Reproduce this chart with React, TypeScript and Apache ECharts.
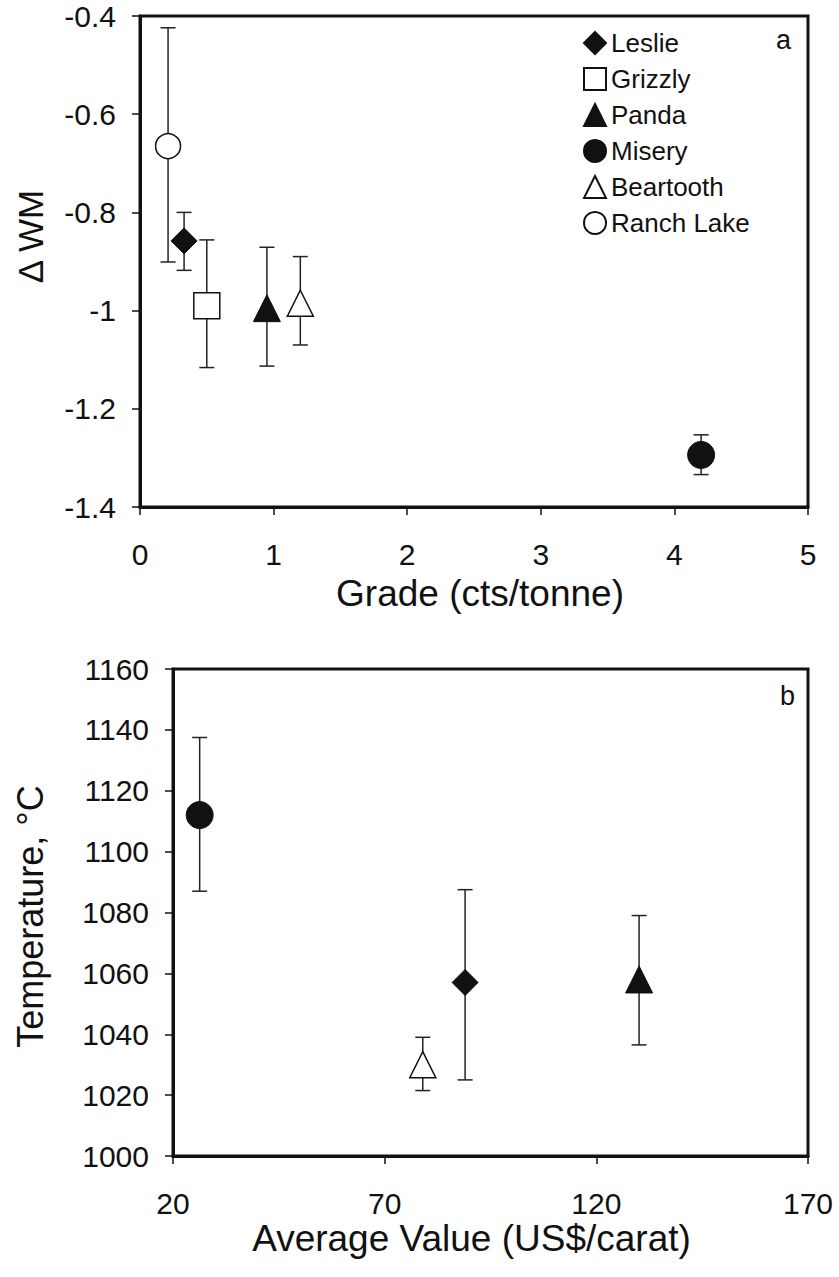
import React, { useEffect, useRef } from "react";
import * as echarts from "echarts";

// ---- Panel a: ΔWM vs grade ----
const minesA = ["Leslie", "Grizzly", "Panda", "Misery", "Beartooth", "Ranch Lake"];
const gradeX = [0.33, 0.5, 0.95, 4.2, 1.2, 0.21];
const deltaWM = [-0.858, -0.99, -0.995, -1.294, -0.985, -0.665];
const deltaWMLow = [-0.918, -1.116, -1.113, -1.334, -1.07, -0.901];
const deltaWMHigh = [-0.8, -0.856, -0.871, -1.253, -0.89, -0.424];
const gradeTicks = [0, 1, 2, 3, 4, 5];
const wmTicks = [-1.4, -1.2, -1, -0.8, -0.6, -0.4];

// ---- Panel b: temperature vs average value ----
const minesB = ["Misery", "Beartooth", "Leslie", "Panda"];
const valueX = [26.3, 79, 89, 130.1];
const temperature = [1112, 1030, 1057, 1058];
const tempLow = [1087, 1021.5, 1025, 1036.5];
const tempHigh = [1137.5, 1039, 1087.5, 1079];
const valueTicks = [20, 70, 120, 170];
const tempTicks = [1000, 1020, 1040, 1060, 1080, 1100, 1120, 1140, 1160];

const FONT = '"Liberation Sans", Arial, Helvetica, sans-serif';
const INK = "#111";

const markerStyle: Record<string, { symbol: string; size: number | number[]; filled: boolean }> = {
  Leslie: { symbol: "diamond", size: [26, 26], filled: true },
  Grizzly: { symbol: "rect", size: 26, filled: false },
  Panda: { symbol: "triangle", size: 27, filled: true },
  Misery: { symbol: "circle", size: 27, filled: true },
  Beartooth: { symbol: "triangle", size: 26, filled: false },
  "Ranch Lake": { symbol: "circle", size: 25, filled: false },
};

function errRender(params: any, api: any) {
  const x = api.value(0);
  const lo = api.value(1);
  const hi = api.value(2);
  const top = api.coord([x, hi]);
  const bot = api.coord([x, lo]);
  const hw = 7.5;
  const style = { stroke: "#222", lineWidth: 1.5 };
  return {
    type: "group",
    children: [
      { type: "line", shape: { x1: top[0], y1: top[1], x2: bot[0], y2: bot[1] }, style },
      { type: "line", shape: { x1: top[0] - hw, y1: top[1], x2: top[0] + hw, y2: top[1] }, style },
      { type: "line", shape: { x1: bot[0] - hw, y1: bot[1], x2: bot[0] + hw, y2: bot[1] }, style },
    ],
  };
}

function scatterSeries(name: string, x: number, y: number, idx: number) {
  const m = markerStyle[name];
  return {
    type: "scatter",
    name,
    xAxisIndex: idx,
    yAxisIndex: idx,
    data: [[x, y]],
    symbol: m.symbol,
    symbolSize: m.size,
    itemStyle: m.filled
      ? { color: INK, borderColor: INK, borderWidth: 1, opacity: 1 }
      : { color: "#fff", borderColor: INK, borderWidth: 1.5, opacity: 1 },
    z: 5,
    silent: true,
  };
}

const axisCommon = {
  type: "value",
  axisLine: { show: true, onZero: false, lineStyle: { color: INK, width: 3 } },
  axisTick: { show: true, inside: false, length: 8, lineStyle: { color: INK, width: 1.5 } },
  splitLine: { show: false },
};

export default function App() {
  const ref = useRef<HTMLDivElement>(null);
  useEffect(() => {
    document.body.style.margin = "0";
    if (!ref.current) return;
    const chart = echarts.init(ref.current, null, { renderer: "svg" });
    const option: any = {
      animation: false,
      backgroundColor: "#fff",
      textStyle: { fontFamily: FONT, color: INK },
      grid: [
        { left: 140, top: 16, width: 668, height: 491, show: true, borderColor: INK, borderWidth: 3, backgroundColor: "transparent" },
        { left: 173, top: 669, width: 635, height: 487, show: true, borderColor: INK, borderWidth: 3, backgroundColor: "transparent" },
      ],
      xAxis: [
        {
          ...axisCommon,
          gridIndex: 0,
          min: 0,
          max: 5,
          interval: 1,
          axisTick: { ...axisCommon.axisTick, customValues: gradeTicks },
          axisLabel: { customValues: gradeTicks, fontSize: 30, color: INK, fontFamily: FONT, margin: 32 },
          name: "Grade (cts/tonne)",
          nameLocation: "middle",
          nameGap: 68,
          nameTextStyle: { fontSize: 37, color: INK, fontFamily: FONT, padding: [0, 0, 0, 12] },
        },
        {
          ...axisCommon,
          gridIndex: 1,
          min: 20,
          max: 170,
          interval: 50,
          axisTick: { ...axisCommon.axisTick, customValues: valueTicks },
          axisLabel: {
            customValues: valueTicks,
            fontSize: 30,
            color: INK,
            fontFamily: FONT,
            margin: 32,
            formatter: (v: number) => String(v),
          },
          name: "Average Value (US$/carat)",
          nameLocation: "middle",
          nameGap: 64,
          nameTextStyle: { fontSize: 37, color: INK, fontFamily: FONT, padding: [0, 38, 0, 0] },
        },
      ],
      yAxis: [
        {
          ...axisCommon,
          gridIndex: 0,
          min: -1.4,
          max: -0.4,
          interval: 0.2,
          axisTick: { ...axisCommon.axisTick, customValues: wmTicks },
          axisLabel: {
            customValues: wmTicks,
            fontSize: 30,
            color: INK,
            fontFamily: FONT,
            margin: 24,
            formatter: (v: number) => String(Math.round(v * 10) / 10),
          },
          name: "\u0394 WM",
          nameLocation: "middle",
          nameGap: 92,
          nameTextStyle: { fontSize: 35, color: INK, fontFamily: FONT, padding: [0, 0, 0, 50] },
        },
        {
          ...axisCommon,
          gridIndex: 1,
          min: 1000,
          max: 1160,
          interval: 20,
          axisTick: { ...axisCommon.axisTick, customValues: tempTicks },
          axisLabel: {
            customValues: tempTicks,
            fontSize: 30,
            color: INK,
            fontFamily: FONT,
            margin: 24,
            formatter: (v: number) => String(v),
          },
          name: "Temperature, \u00B0C",
          nameLocation: "middle",
          nameGap: 125,
          nameTextStyle: { fontSize: 36, color: INK, fontFamily: FONT, padding: [0, 8, 0, 0] },
        },
      ],
      legend: {
        show: true,
        orient: "vertical",
        left: 578,
        top: 25,
        itemWidth: 22,
        itemHeight: 22,
        itemGap: 10,
        selectedMode: false,
        data: minesA,
        textStyle: { fontSize: 26, color: INK, fontFamily: FONT },
      },
      graphic: [
        { type: "text", left: 776, top: 26, style: { text: "a", fontSize: 27, fill: INK, fontFamily: FONT } },
        { type: "text", left: 780, top: 682, style: { text: "b", fontSize: 27, fill: INK, fontFamily: FONT } },
      ],
      series: [
        {
          type: "custom",
          name: "err-a",
          xAxisIndex: 0,
          yAxisIndex: 0,
          data: gradeX.map((x, i) => [x, deltaWMLow[i], deltaWMHigh[i]]),
          encode: { x: 0, y: [1, 2] },
          renderItem: errRender,
          z: 2,
          silent: true,
        },
        {
          type: "custom",
          name: "err-b",
          xAxisIndex: 1,
          yAxisIndex: 1,
          data: valueX.map((x, i) => [x, tempLow[i], tempHigh[i]]),
          encode: { x: 0, y: [1, 2] },
          renderItem: errRender,
          z: 2,
          silent: true,
        },
        ...minesA.map((n, i) => scatterSeries(n, gradeX[i], deltaWM[i], 0)),
        ...minesB.map((n, i) => scatterSeries(n, valueX[i], temperature[i], 1)),
      ],
    };
    chart.setOption(option);
    return () => chart.dispose();
  }, []);
  return <div ref={ref} style={{ width: 839, height: 1277 }} />;
}
